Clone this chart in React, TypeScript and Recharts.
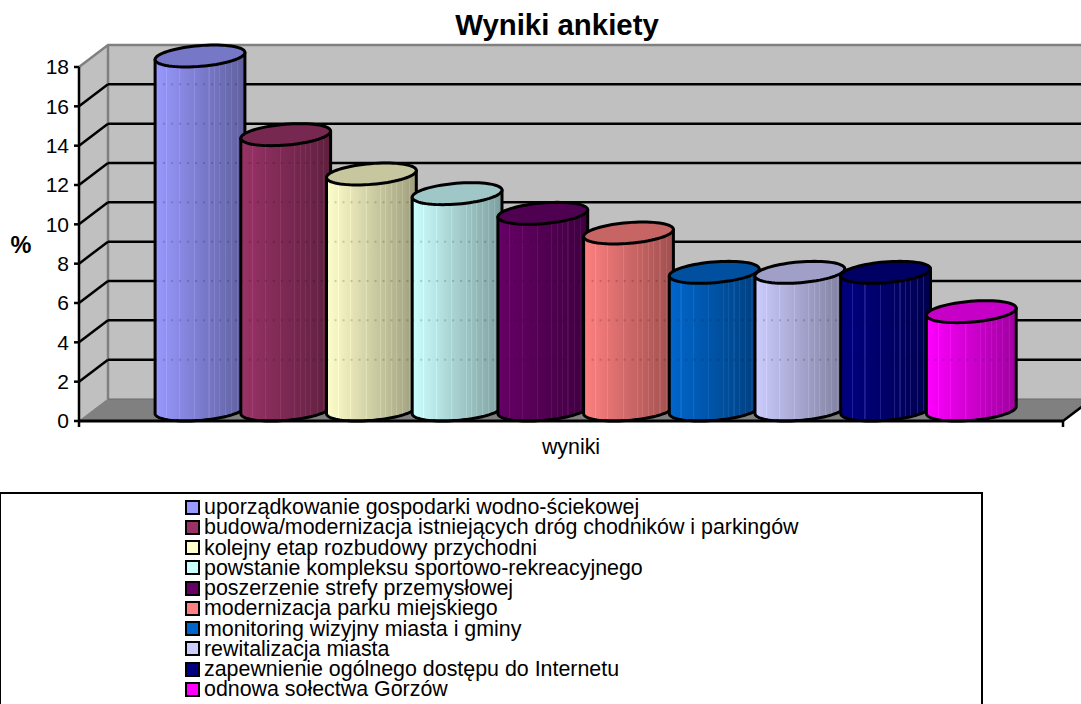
import React from 'react'
import { BarChart, Bar, XAxis, YAxis, CartesianGrid, Legend, ReferenceArea } from 'recharts'

const categories = ['wyniki']
const seriesNames = [
  'uporządkowanie gospodarki wodno-ściekowej',
  'budowa/modernizacja istniejących dróg chodników i parkingów',
  'kolejny etap rozbudowy przychodni',
  'powstanie kompleksu sportowo-rekreacyjnego',
  'poszerzenie strefy przemysłowej',
  'modernizacja parku miejskiego',
  'monitoring wizyjny miasta i gminy',
  'rewitalizacja miasta',
  'zapewnienie ogólnego dostępu do Internetu',
  'odnowa sołectwa Gorzów',
]
const seriesValues = [18, 14, 12, 11, 10, 9, 7, 7, 7, 5]
const seriesColors = ['#9999FF', '#993366', '#FFFFCC', '#CCFFFF', '#660066', '#FF8080', '#0066CC', '#CCCCFF', '#000080', '#FF00FF']
const yTicks = [0, 2, 4, 6, 8, 10, 12, 14, 16, 18]

const data = categories.map((name) => {
  const row: Record<string, string | number> = { name }
  seriesNames.forEach((s, i) => { row[s] = seriesValues[i] })
  return row
})

// 3d depth of the plot box
const DX = 29
const DY = -22
const FONT = '"Liberation Sans", Arial, sans-serif'

const shade = (hex: string, k: number, lift = 0) => {
  const n = parseInt(hex.slice(1), 16)
  const c = [(n >> 16) & 255, (n >> 8) & 255, n & 255].map((v) => Math.min(255, Math.round(v * k + lift)))
  return `rgb(${c[0]},${c[1]},${c[2]})`
}

const stripes = [0.13, 0.27, 0.44, 0.6, 0.66, 0.72, 0.78, 0.85, 0.92]

function Gradient({ id, color }: { id: string; color: string }) {
  const k = (t: number) => 1 - 0.38 * t
  const stops: React.ReactNode[] = [<stop key="s" offset="0" stopColor={shade(color, 1)} />]
  stripes.forEach((t, i) => {
    const lift = color === '#000080' ? 30 : 14
    stops.push(<stop key={i + 'a'} offset={t - 0.006} stopColor={shade(color, k(t))} />)
    stops.push(<stop key={i + 'b'} offset={t - 0.005} stopColor={shade(color, k(t), lift)} />)
    stops.push(<stop key={i + 'c'} offset={t + 0.006} stopColor={shade(color, k(t), lift)} />)
    stops.push(<stop key={i + 'd'} offset={t + 0.007} stopColor={shade(color, k(t))} />)
  })
  stops.push(<stop key="e" offset="1" stopColor={shade(color, k(1))} />)
  return <linearGradient id={id} x1="0" y1="0" x2="1" y2="0">{stops}</linearGradient>
}

function Cylinder(props: any) {
  const { x, y, width, height, index, seriesIndex } = props
  const color = seriesColors[seriesIndex]
  const hw = width / 2
  const cx = x + hw + DX / 2
  const topY = y + DY / 2
  const botY = y + height + DY / 2
  const pt = (t: number, cy: number) => [cx + hw * Math.cos(t) + (DX / 2) * Math.sin(t), cy + (DY / 2) * Math.sin(t)]
  const t1 = Math.atan(DX / 2 / hw)
  const t0 = Math.PI + t1
  const steps = 48
  const front: number[][] = []
  for (let i = 0; i <= steps; i++) front.push(pt(t0 + (Math.PI * i) / steps, botY))
  const topRight = pt(t1, topY)
  const topLeft = pt(t0, topY)
  const body = `M${topLeft[0]},${topLeft[1]} ` + front.map((p) => `L${p[0]},${p[1]}`).join(' ') + ` L${topRight[0]},${topRight[1]} Z`
  const cap: number[][] = []
  for (let i = 0; i < 72; i++) cap.push(pt((i / 72) * Math.PI * 2, topY))
  const capPath = 'M' + cap.map((p) => `${p[0]},${p[1]}`).join(' L') + ' Z'
  const gradId = `cyl-${seriesIndex}-${index}`
  const clipId = `clip-${seriesIndex}-${index}`
  const unit = height / seriesValues[seriesIndex]
  const marks = yTicks.slice(1, -1).map((v) => y + height + DY - v * unit).filter((gy) => gy > topY + 12)
  return (
    <g>
      <defs>
        <Gradient id={gradId} color={color} />
        <clipPath id={clipId}><path d={body} /></clipPath>
      </defs>
      <path d={body} fill={`url(#${gradId})`} />
      <g clipPath={`url(#${clipId})`}>
        {marks.map((gy) => (
          <line key={gy} x1={topLeft[0]} x2={topRight[0]} y1={gy} y2={gy} stroke="#000" strokeOpacity={0.16} strokeWidth={2} strokeDasharray="2 6" />
        ))}
      </g>
      <path d={body} fill="none" stroke="#000" strokeWidth={3} strokeLinejoin="round" />
      <path d={capPath} fill={shade(color, 0.78)} stroke="#000" strokeWidth={3} strokeLinejoin="round" />
    </g>
  )
}

function PlotBox(props: any) {
  const { x, y, width, height } = props
  const bottom = y + height
  const right = x + width
  const far = right + DX
  return (
    <g>
      <polygon points={`${x + DX},${y + DY} ${far},${y + DY} ${far},${bottom + DY} ${x + DX},${bottom + DY}`} fill="#C0C0C0" />
      <polygon points={`${x},${y} ${x + DX},${y + DY} ${x + DX},${bottom + DY} ${x},${bottom}`} fill="#C0C0C0" />
      <polygon points={`${x},${bottom} ${x + DX},${bottom + DY} ${far},${bottom + DY} ${right},${bottom}`} fill="#808080" />
      <polyline points={`${x},${y} ${x + DX},${y + DY} ${far},${y + DY}`} fill="none" stroke="#808080" strokeWidth={2.5} />
      <line x1={x + DX} x2={x + DX} y1={y + DY} y2={bottom + DY} stroke="#808080" strokeWidth={2.5} />
      <line x1={x + DX} x2={far} y1={bottom + DY} y2={bottom + DY} stroke="#6a6a6a" strokeWidth={1} />
      <line x1={x} x2={x + DX} y1={bottom} y2={bottom + DY} stroke="#808080" strokeWidth={1} />
      <line x1={right} x2={far} y1={bottom} y2={bottom + DY} stroke="#000" strokeWidth={2.5} />
      <line x1={x} x2={x} y1={bottom} y2={bottom + 6} stroke="#000" strokeWidth={2.5} />
      <line x1={right} x2={right} y1={bottom} y2={bottom + 6} stroke="#000" strokeWidth={2.5} />
    </g>
  )
}

const gridLine = (props: any) => {
  const { x1, x2, y1, y2, index } = props
  if (index === 0 || index === yTicks.length - 1) return <g key={index} />
  return (
    <g key={index}>
      <line x1={x1} y1={y1} x2={x1 + DX} y2={y1 + DY} stroke="#000" strokeWidth={2.5} />
      <line x1={x1 + DX} y1={y2 + DY} x2={x2 + DX} y2={y2 + DY} stroke="#000" strokeWidth={2.5} />
    </g>
  )
}

function LegendBox({ payload }: any) {
  return (
    <div style={{ boxSizing: 'border-box', width: 983, height: 230, border: '2.5px solid #000', borderLeftWidth: 1.5, paddingTop: 3, paddingLeft: 184, background: '#fff' }}>
      {(payload || []).map((p: any) => (
        <div key={p.value} style={{ display: 'flex', alignItems: 'center', height: 20.25, lineHeight: '20.25px', fontFamily: FONT, fontSize: 21.4, color: '#000', whiteSpace: 'nowrap' }}>
          <span style={{ boxSizing: 'border-box', width: 15, height: 15, border: '2.5px solid #000', background: p.color, marginRight: 4, flex: 'none' }} />
          {p.value}
        </div>
      ))}
    </div>
  )
}

export default function App() {
  return (
    <div style={{ position: 'absolute', left: 0, top: 0, width: 1081, height: 704, overflow: 'hidden', background: '#fff' }}>
      <BarChart
        width={1081}
        height={704}
        data={data}
        margin={{ top: 67, right: 18, bottom: 0, left: 0 }}
        barCategoryGap={64}
        barGap={0.7}
        style={{ fontFamily: FONT }}
      >
        <ReferenceArea y1={0} y2={18} ifOverflow="visible" shape={<PlotBox />} zIndex={-200} />
        <CartesianGrid vertical={false} horizontal={gridLine} />
        <XAxis
          dataKey="name"
          height={283}
          tickLine={false}
          axisLine={{ stroke: '#000', strokeWidth: 3 }}
          tick={{ fill: '#000', fontSize: 21.4 }}
          tickMargin={12}
        />
        <YAxis
          width={79}
          domain={[0, 18]}
          ticks={yTicks}
          interval={0}
          tickSize={5}
          tickLine={{ stroke: '#000', strokeWidth: 2.5 }}
          axisLine={{ stroke: '#000', strokeWidth: 2.5 }}
          tick={{ fill: '#000', fontSize: 21 }}
          tickMargin={5}
        />
        <Legend
          layout="horizontal"
          verticalAlign="middle"
          itemSorter={null}
          wrapperStyle={{ position: 'absolute', left: 0, top: 492, width: 983, height: 230 }}
          content={<LegendBox />}
        />
        {seriesNames.map((s, i) => (
          <Bar
            key={s}
            dataKey={s}
            fill={seriesColors[i]}
            isAnimationActive={false}
            shape={(p: any) => <Cylinder {...p} seriesIndex={i} />}
          />
        ))}
        <text x={557} y={35} textAnchor="middle" fontFamily={FONT} fontWeight="bold" fontSize={29.4} fill="#000">Wyniki ankiety</text>
        <text x={21} y={253} textAnchor="middle" fontFamily={FONT} fontWeight="bold" fontSize={23.5} fill="#000">%</text>
      </BarChart>
    </div>
  )
}
